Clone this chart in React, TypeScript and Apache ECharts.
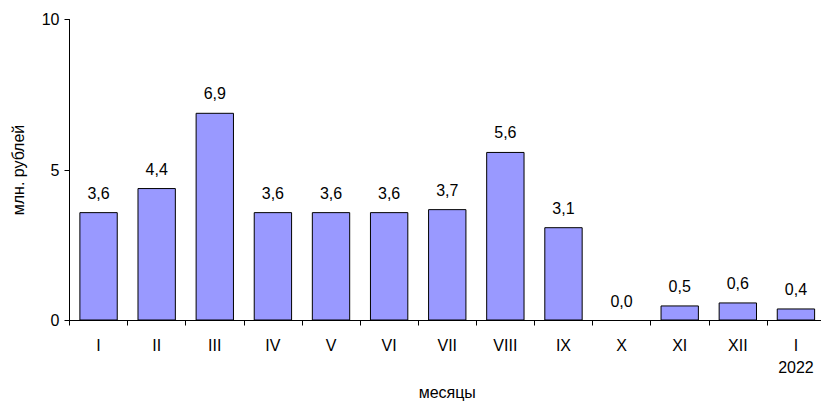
import React, { useEffect, useRef } from "react";
import * as echarts from "echarts";

const categories = ["I", "II", "III", "IV", "V", "VI", "VII", "VIII", "IX", "X", "XI", "XII", "I\n2022"];
const values = [3.6, 4.4, 6.9, 3.6, 3.6, 3.6, 3.7, 5.6, 3.1, 0.0, 0.5, 0.6, 0.4];
const yTicks = [0, 5, 10];

export default function App() {
  const ref = useRef<HTMLDivElement>(null);
  useEffect(() => {
    if (!ref.current) return;
    const chart = echarts.init(ref.current, null, { renderer: "svg" });
    const font = "'Liberation Sans', Arial, sans-serif";
    chart.setOption({
      animation: false,
      backgroundColor: "#fff",
      textStyle: { fontFamily: font },
      grid: { left: 69.5, right: -4, top: 19.5, bottom: 82.5, containLabel: false, outerBoundsMode: "none" },
      xAxis: {
        type: "category",
        data: categories,
        name: "месяцы",
        nameLocation: "middle",
        nameGap: 64,
        nameTextStyle: { fontSize: 16, color: "#000", fontFamily: font },
        axisLine: { lineStyle: { color: "#000", width: 1 } },
        axisTick: { show: true, length: 5, lineStyle: { color: "#000" } },
        axisLabel: { fontSize: 16, color: "#000", margin: 14, lineHeight: 22, fontFamily: font },
      },
      yAxis: {
        type: "value",
        min: yTicks[0],
        max: yTicks[yTicks.length - 1],
        interval: 5,
        name: "млн. рублей",
        nameLocation: "middle",
        nameGap: 43,
        nameRotate: 90,
        nameTextStyle: { fontSize: 16, color: "#000", fontFamily: font },
        axisLine: { show: true, lineStyle: { color: "#000", width: 1 } },
        axisTick: { show: true, length: 5, lineStyle: { color: "#000" } },
        axisLabel: { fontSize: 16, color: "#000", margin: 10, fontFamily: font },
        splitLine: { show: false },
      },
      series: [
        {
          type: "bar",
          data: values.map((v) => ({
            value: v,
            itemStyle: v === 0 ? { borderWidth: 0 } : undefined,
          })),
          barWidth: "66%",
          itemStyle: { color: "#9999FF", borderColor: "#000", borderWidth: 1 },
          label: {
            show: true,
            position: "top",
            distance: 11,
            fontSize: 16,
            color: "#000",
            fontFamily: font,
            formatter: (p: any) => Number(p.value).toFixed(1).replace(".", ","),
          },
        },
      ],
    });
    return () => chart.dispose();
  }, []);
  return (
    <div
      ref={ref}
      style={{ position: "fixed", left: 0, top: 0, width: 821, height: 403 }}
    />
  );
}
